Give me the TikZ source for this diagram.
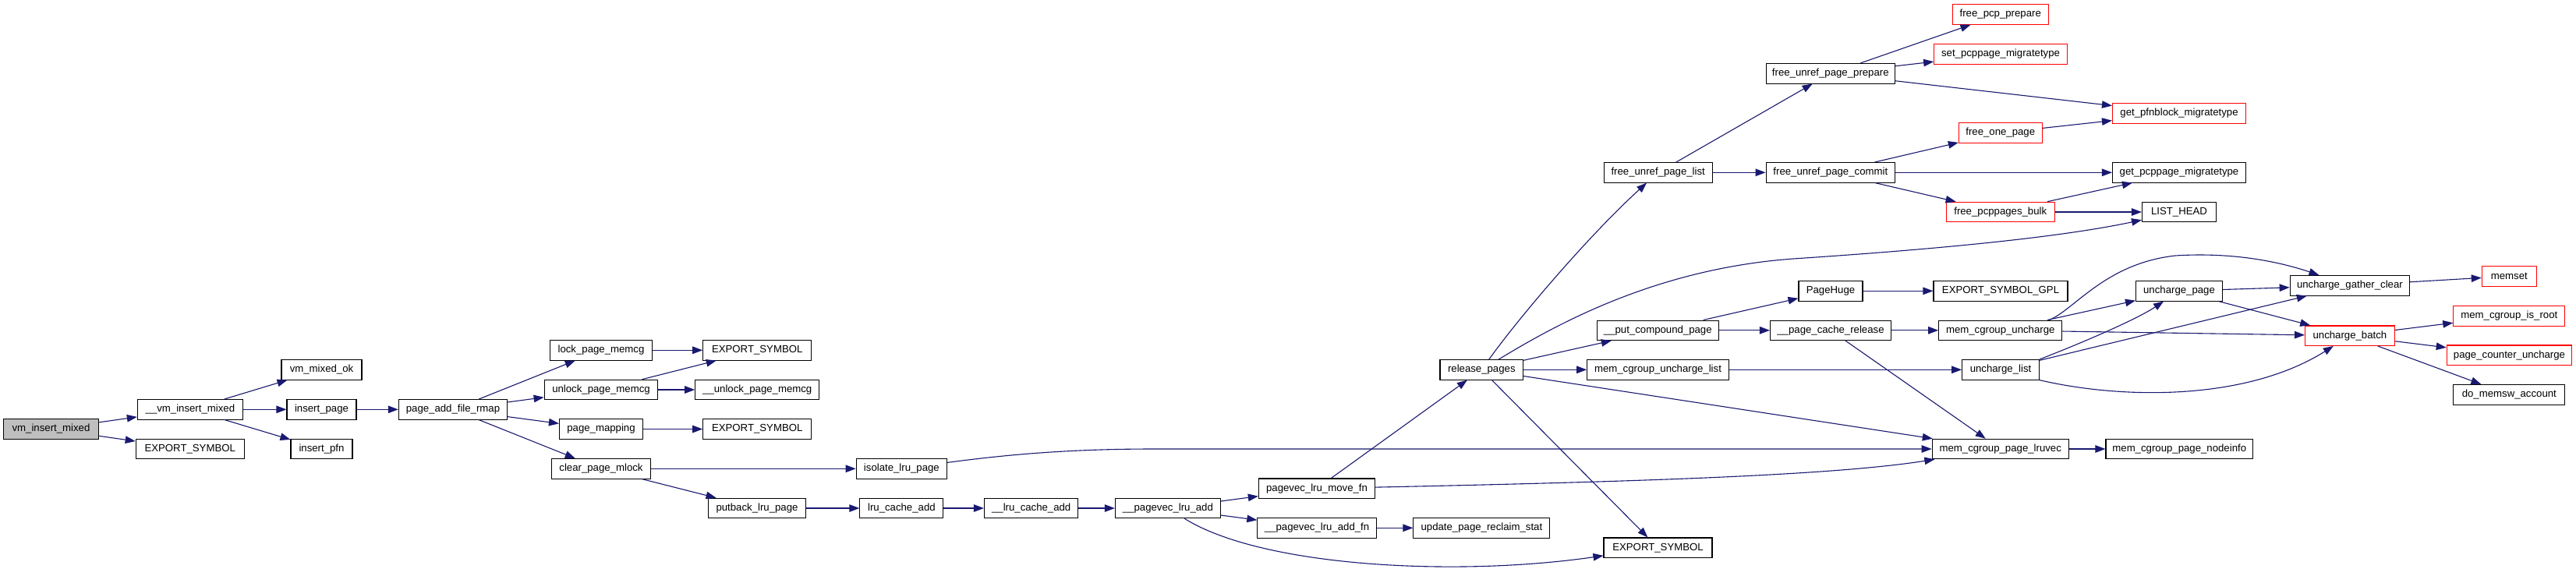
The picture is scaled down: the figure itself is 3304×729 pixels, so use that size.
\documentclass[tikz,border=0pt]{standalone}
\usepackage{fontspec}
\setmainfont{Liberation Sans}
\usetikzlibrary{arrows.meta}
\definecolor{edgecol}{HTML}{191970}
\definecolor{rootfill}{HTML}{BFBFBF}
\newcommand{\nodefont}{\fontsize{13.2pt}{15pt}\selectfont}
\begin{document}
\begin{tikzpicture}[x=1pt,y=-1pt,
  nd/.style={draw=black, line width=1.1pt, inner sep=0pt, minimum height=25.5pt, font=\nodefont, fill=white},
  rd/.style={nd, draw=red},
  e/.style={draw=edgecol, line width=1.1pt, -{Triangle[length=13pt,width=9.5pt]}, fill=none}]
\useasboundingbox[fill=white] (0,0) rectangle (3304,729);
% nodes
\node[nd, fill=rootfill, minimum width=122.5pt] (vim) at (65.5,550.5) {vm\_insert\_mixed};
\node[nd, minimum width=135pt] (vvim) at (243.9,525.3) {\_\_vm\_insert\_mixed};
\node[nd, minimum width=139pt] (es1) at (243.75,576) {EXPORT\_SYMBOL};
\node[nd, minimum width=103pt] (vmok) at (412.5,474.3) {vm\_mixed\_ok};
\node[nd, minimum width=89pt] (ip) at (412.5,525.3) {insert\_page};
\node[nd, minimum width=79pt] (ipfn) at (412.5,576) {insert\_pfn};
\node[nd, minimum width=139.3pt] (pafr) at (581,525.3) {page\_add\_file\_rmap};
\node[nd, minimum width=130.7pt] (lpm) at (771,449.3) {lock\_page\_memcg};
\node[nd, minimum width=139pt] (es2) at (971.25,449.3) {EXPORT\_SYMBOL};
\node[nd, minimum width=145.7pt] (upm) at (771,500) {unlock\_page\_memcg};
\node[nd, minimum width=159pt] (uupm) at (971.25,500) {\_\_unlock\_page\_memcg};
\node[nd, minimum width=107pt] (pm) at (771,550.5) {page\_mapping};
\node[nd, minimum width=139pt] (es3) at (971.25,550.5) {EXPORT\_SYMBOL};
\node[nd, minimum width=127pt] (cpm) at (771,601.3) {clear\_page\_mlock};
\node[nd, minimum width=124.3pt] (plp) at (971,652) {putback\_lru\_page};
\node[nd, minimum width=116.4pt] (ilp) at (1156.4,601.3) {isolate\_lru\_page};
\node[nd, minimum width=107pt] (lca) at (1156.4,652) {lru\_cache\_add};
\node[nd, minimum width=120.4pt] (ulca) at (1322.7,652) {\_\_lru\_cache\_add};
\node[nd, minimum width=135pt] (pla) at (1497.9,652) {\_\_pagevec\_lru\_add};
\node[nd, minimum width=149.3pt] (pmf) at (1689,626.7) {pagevec\_lru\_move\_fn};
\node[nd, minimum width=152.5pt] (plaf) at (1689.1,677.3) {\_\_pagevec\_lru\_add\_fn};
\node[nd, minimum width=175pt] (uprs) at (1900.4,677.3) {update\_page\_reclaim\_stat};
\node[nd, minimum width=139pt] (es4) at (2126.5,702.7) {EXPORT\_SYMBOL};
\node[nd, minimum width=106.6pt] (rp) at (1900.3,474.3) {release\_pages};
\node[nd, minimum width=156pt] (pcp) at (2126.3,423.8) {\_\_put\_compound\_page};
\node[nd, minimum width=181.6pt] (mcul) at (2126.5,474.3) {mem\_cgroup\_uncharge\_list};
\node[nd, minimum width=139.2pt] (fupl) at (2126.7,221.3) {free\_unref\_page\_list};
\node[nd, minimum width=165.4pt] (fupp) at (2347.8,94.3) {free\_unref\_page\_prepare};
\node[nd, minimum width=165.4pt] (fupc) at (2347.8,221.3) {free\_unref\_page\_commit};
\node[rd, minimum width=123pt] (fpp) at (2565.75,18.5) {free\_pcp\_prepare};
\node[rd, minimum width=170.7pt] (spm) at (2566,69.3) {set\_pcppage\_migratetype};
\node[rd, minimum width=171pt] (gpm) at (2795,145.3) {get\_pfnblock\_migratetype};
\node[rd, minimum width=106.7pt] (fop) at (2565.75,170.3) {free\_one\_page};
\node[nd, minimum width=171pt] (gppm) at (2795,221.3) {get\_pcppage\_migratetype};
\node[rd, minimum width=139pt] (fpb) at (2565.75,272) {free\_pcppages\_bulk};
\node[nd, minimum width=95pt] (lh) at (2795,272) {LIST\_HEAD};
\node[nd, minimum width=82pt] (ph) at (2348,373.3) {PageHuge};
\node[nd, minimum width=172pt] (esg) at (2566,373.3) {EXPORT\_SYMBOL\_GPL};
\node[nd, minimum width=155pt] (pcr) at (2348,423.8) {\_\_page\_cache\_release};
\node[nd, minimum width=158pt] (mcu) at (2565.75,423.8) {mem\_cgroup\_uncharge};
\node[nd, minimum width=98.7pt] (ul) at (2566,474.3) {uncharge\_list};
\node[nd, minimum width=175pt] (lruvec) at (2565.75,576) {mem\_cgroup\_page\_lruvec};
\node[nd, minimum width=188.5pt] (nodeinfo) at (2795.25,576) {mem\_cgroup\_page\_nodeinfo};
\node[nd, minimum width=111pt] (up) at (2795,373.3) {uncharge\_page};
\node[nd, minimum width=153.5pt] (ugc) at (3013.9,366.3) {uncharge\_gather\_clear};
\node[rd, minimum width=70pt] (ms) at (3218.3,354.3) {memset};
\node[rd, minimum width=114.7pt] (ub) at (3013.9,430.7) {uncharge\_batch};
\node[rd, minimum width=143pt] (mir) at (3218.3,405.3) {mem\_cgroup\_is\_root};
\node[rd, minimum width=160.5pt] (pcu) at (3218.5,455.7) {page\_counter\_uncharge};
\node[nd, minimum width=143pt] (dma) at (3218.3,506.3) {do\_memsw\_account};
% edges
\draw[e] (vim) -- (vvim);
\draw[e] (vim) -- (es1);
\draw[e] (vvim) -- (vmok);
\draw[e] (vvim) -- (ip);
\draw[e] (vvim) -- (ipfn);
\draw[e] (ip) -- (pafr);
\draw[e] (pafr) -- (lpm);
\draw[e] (pafr) -- (upm);
\draw[e] (pafr) -- (pm);
\draw[e] (pafr) -- (cpm);
\draw[e] (lpm) -- (es2);
\draw[e] (upm) -- (es2);
\draw[e] (upm) -- (uupm);
\draw[e] (pm) -- (es3);
\draw[e] (cpm) -- (ilp);
\draw[e] (cpm) -- (plp);
\draw[e] (plp) -- (lca);
\draw[e] (lca) -- (ulca);
\draw[e] (ulca) -- (pla);
\draw[e] (pla) -- (pmf);
\draw[e] (pla) -- (plaf);
\draw[e] (pla) .. controls (1620,728) and (1870,740) .. (es4);
\draw[e] (ilp) .. controls (1300,582) and (1380,576) .. (1480,576) -- (lruvec);
\draw[e] (pmf) .. controls (2100,618) and (2350,610) .. (lruvec);
\draw[e] (pmf) -- (rp);
\draw[e] (plaf) -- (uprs);
\draw[e] (rp) .. controls (1950,405) and (2040,300) .. (fupl);
\draw[e] (rp) .. controls (1990,420) and (2120,345) .. (2300,332) .. controls (2480,320) and (2640,305) .. (lh);
\draw[e] (rp) -- (pcp);
\draw[e] (rp) -- (mcul);
\draw[e] (rp) -- (lruvec);
\draw[e] (rp) -- (es4);
\draw[e] (fupl) -- (fupp);
\draw[e] (fupl) -- (fupc);
\draw[e] (fupp) -- (fpp);
\draw[e] (fupp) -- (spm);
\draw[e] (fupp) -- (gpm);
\draw[e] (fupc) -- (fop);
\draw[e] (fupc) -- (gppm);
\draw[e] (fupc) -- (fpb);
\draw[e] (fop) -- (gpm);
\draw[e] (fpb) -- (gppm);
\draw[e] (fpb) -- (lh);
\draw[e] (pcp) -- (ph);
\draw[e] (pcp) -- (pcr);
\draw[e] (ph) -- (esg);
\draw[e] (pcr) -- (mcu);
\draw[e] (pcr) -- (lruvec);
\draw[e] (mcul) -- (ul);
\draw[e] (mcu.12) .. controls (2660,398) and (2700,338) .. (2790,328) .. controls (2870,323) and (2930,338) .. (ugc);
\draw[e] (mcu) -- (up);
\draw[e] (mcu) -- (ub);
\draw[e] (ul.north east) .. controls (2670,440) and (2740,410) .. (up);
\draw[e] (ul) -- (ugc);
\draw[e] (ul.south east) .. controls (2720,512) and (2880,515) .. (ub);
\draw[e] (up) -- (ugc);
\draw[e] (up) -- (ub);
\draw[e] (ugc) -- (ms);
\draw[e] (ub) -- (mir);
\draw[e] (ub) -- (pcu);
\draw[e] (ub) -- (dma);
\draw[e] (lruvec) -- (nodeinfo);
\end{tikzpicture}
\end{document}
